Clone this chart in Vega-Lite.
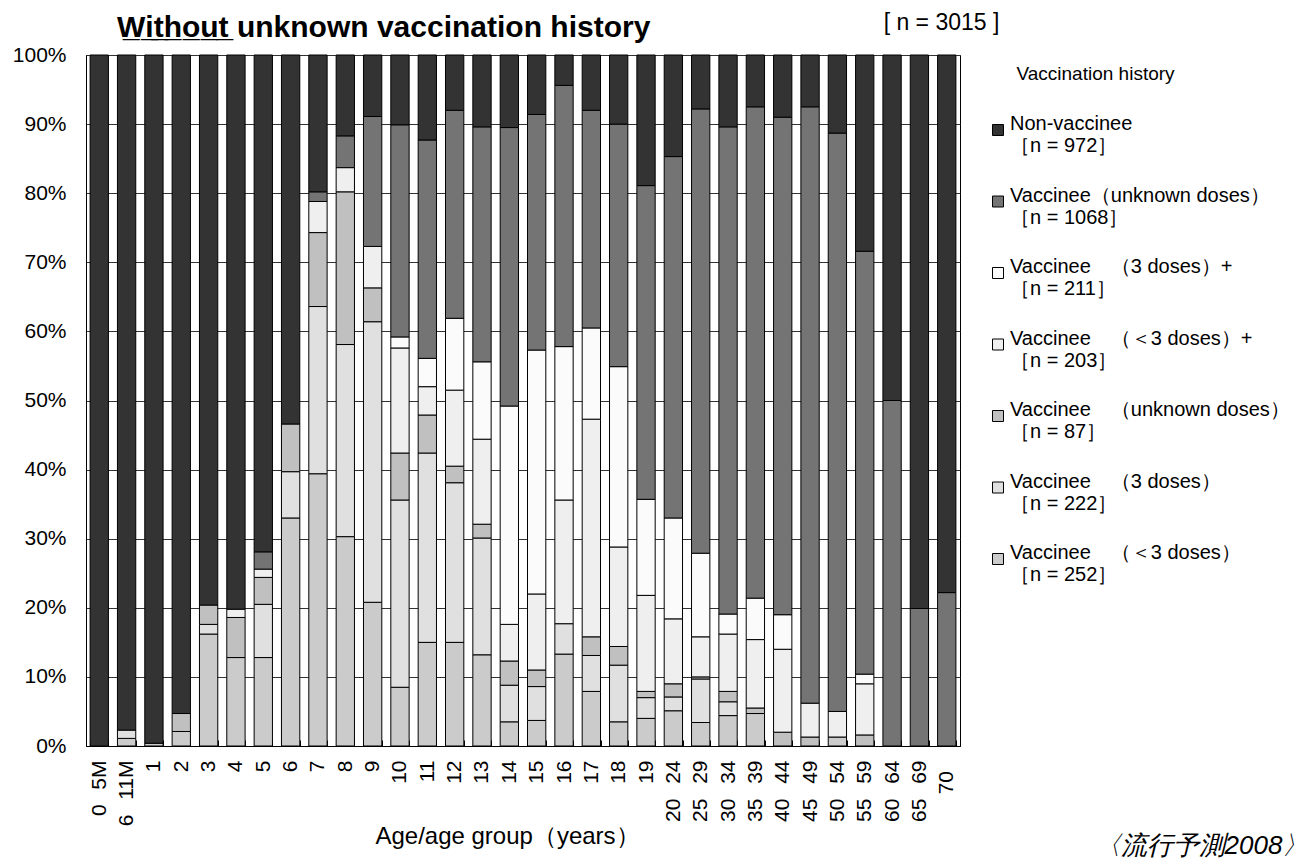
{
  "$schema": "https://vega.github.io/schema/vega-lite/v6.json",
  "width": 874,
  "height": 691,
  "autosize": {"type": "none"},
  "padding": {"left": 86, "top": 55, "right": 349, "bottom": 119},
  "background": "white",
  "config": {
    "font": "Liberation Sans",
    "view": {"stroke": "#000", "strokeWidth": 1},
    "axis": {"labelColor": "#000", "titleColor": "#000"}
  },
  "title": {
    "text": "W\u0332i\u0332t\u0332h\u0332o\u0332u\u0332t\u0332 unknown vaccination history",
    "anchor": "start",
    "frame": "group",
    "dx": 31,
    "dy": 76,
    "fontSize": 30,
    "fontWeight": "bold",
    "color": "#000",
    "baseline": "alphabetic",
    "offset": 20,
    "limit": 800
  },
  "data": {
    "values": [
      {"age": "0\u2002\u20095M", "lt3": 0, "d3": 0, "unk": 0, "plus_lt3": 0, "plus3": 0, "vac_unk": 0, "nonvac": 100},
      {"age": "6\u2002\u200911M", "lt3": 1.1, "d3": 1.2, "unk": 0, "plus_lt3": 0, "plus3": 0, "vac_unk": 0, "nonvac": 97.7},
      {"age": "1", "lt3": 0.4, "d3": 0, "unk": 0, "plus_lt3": 0, "plus3": 0, "vac_unk": 0, "nonvac": 99.6},
      {"age": "2", "lt3": 2.1, "d3": 0, "unk": 2.6, "plus_lt3": 0, "plus3": 0, "vac_unk": 0, "nonvac": 95.3},
      {"age": "3", "lt3": 16.2, "d3": 1.4, "unk": 2.8, "plus_lt3": 0, "plus3": 0, "vac_unk": 0, "nonvac": 79.6},
      {"age": "4", "lt3": 12.8, "d3": 0, "unk": 5.8, "plus_lt3": 1.2, "plus3": 0, "vac_unk": 0, "nonvac": 80.2},
      {"age": "5", "lt3": 12.8, "d3": 7.7, "unk": 3.9, "plus_lt3": 1.2, "plus3": 0, "vac_unk": 2.5, "nonvac": 71.9},
      {"age": "6", "lt3": 33.0, "d3": 6.7, "unk": 6.9, "plus_lt3": 0, "plus3": 0, "vac_unk": 0, "nonvac": 53.4},
      {"age": "7", "lt3": 39.4, "d3": 24.2, "unk": 10.7, "plus_lt3": 4.5, "plus3": 0, "vac_unk": 1.4, "nonvac": 19.8},
      {"age": "8", "lt3": 30.3, "d3": 27.8, "unk": 22.1, "plus_lt3": 3.5, "plus3": 0, "vac_unk": 4.6, "nonvac": 11.7},
      {"age": "9", "lt3": 20.8, "d3": 40.6, "unk": 4.9, "plus_lt3": 6.0, "plus3": 0, "vac_unk": 18.8, "nonvac": 8.9},
      {"age": "10", "lt3": 8.5, "d3": 27.1, "unk": 6.8, "plus_lt3": 15.2, "plus3": 1.6, "vac_unk": 30.7, "nonvac": 10.1},
      {"age": "11", "lt3": 15.0, "d3": 27.4, "unk": 5.5, "plus_lt3": 4.1, "plus3": 4.1, "vac_unk": 31.6, "nonvac": 12.3},
      {"age": "12", "lt3": 15.0, "d3": 23.1, "unk": 2.4, "plus_lt3": 11.0, "plus3": 10.4, "vac_unk": 30.1, "nonvac": 8.0},
      {"age": "13", "lt3": 13.2, "d3": 16.9, "unk": 2.0, "plus_lt3": 12.3, "plus3": 11.2, "vac_unk": 34.0, "nonvac": 10.4},
      {"age": "14", "lt3": 3.5, "d3": 5.3, "unk": 3.5, "plus_lt3": 5.3, "plus3": 31.6, "vac_unk": 40.3, "nonvac": 10.5},
      {"age": "15", "lt3": 3.7, "d3": 4.9, "unk": 2.4, "plus_lt3": 11.0, "plus3": 35.3, "vac_unk": 34.1, "nonvac": 8.6},
      {"age": "16", "lt3": 13.3, "d3": 4.4, "unk": 0, "plus_lt3": 17.9, "plus3": 22.2, "vac_unk": 37.8, "nonvac": 4.4},
      {"age": "17", "lt3": 7.9, "d3": 5.2, "unk": 2.7, "plus_lt3": 31.5, "plus3": 13.2, "vac_unk": 31.5, "nonvac": 8.0},
      {"age": "18", "lt3": 3.5, "d3": 8.2, "unk": 2.7, "plus_lt3": 14.4, "plus3": 26.1, "vac_unk": 35.1, "nonvac": 10.0},
      {"age": "19", "lt3": 4.0, "d3": 3.0, "unk": 0.9, "plus_lt3": 13.9, "plus3": 13.9, "vac_unk": 45.4, "nonvac": 18.9},
      {"age": "20\u2002\u200924", "lt3": 5.1, "d3": 2.0, "unk": 1.9, "plus_lt3": 9.4, "plus3": 14.6, "vac_unk": 52.3, "nonvac": 14.7},
      {"age": "25\u2002\u200929", "lt3": 3.4, "d3": 6.3, "unk": 0.3, "plus_lt3": 5.8, "plus3": 12.1, "vac_unk": 64.3, "nonvac": 7.8},
      {"age": "30\u2002\u200934", "lt3": 4.4, "d3": 2.0, "unk": 1.5, "plus_lt3": 8.3, "plus3": 2.9, "vac_unk": 70.5, "nonvac": 10.4},
      {"age": "35\u2002\u200939", "lt3": 4.7, "d3": 0, "unk": 0.8, "plus_lt3": 9.9, "plus3": 6.0, "vac_unk": 71.1, "nonvac": 7.5},
      {"age": "40\u2002\u200944", "lt3": 0, "d3": 0, "unk": 2.0, "plus_lt3": 12.0, "plus3": 5.0, "vac_unk": 72.0, "nonvac": 9.0},
      {"age": "45\u2002\u200949", "lt3": 0, "d3": 0, "unk": 1.3, "plus_lt3": 4.9, "plus3": 0, "vac_unk": 86.3, "nonvac": 7.5},
      {"age": "50\u2002\u200954", "lt3": 1.3, "d3": 0, "unk": 0, "plus_lt3": 3.7, "plus3": 0, "vac_unk": 83.7, "nonvac": 11.3},
      {"age": "55\u2002\u200959", "lt3": 0, "d3": 0, "unk": 1.6, "plus_lt3": 7.4, "plus3": 1.4, "vac_unk": 61.2, "nonvac": 28.4},
      {"age": "60\u2002\u200964", "lt3": 0, "d3": 0, "unk": 0, "plus_lt3": 0, "plus3": 0, "vac_unk": 50.0, "nonvac": 50.0},
      {"age": "65\u2002\u200969", "lt3": 0, "d3": 0, "unk": 0, "plus_lt3": 0, "plus3": 0, "vac_unk": 19.9, "nonvac": 80.1},
      {"age": "70\u2002\u200b", "lt3": 0, "d3": 0, "unk": 0, "plus_lt3": 0, "plus3": 0, "vac_unk": 22.2, "nonvac": 77.8}
    ]
  },
  "transform": [
    {"fold": ["lt3", "d3", "unk", "plus_lt3", "plus3", "vac_unk", "nonvac"], "as": ["key", "value"]},
    {"filter": "datum.value > 0"},
    {"calculate": "indexof(['lt3','d3','unk','plus_lt3','plus3','vac_unk','nonvac'], datum.key)", "as": "ord"}
  ],
  "encoding": {
    "x": {
      "field": "age",
      "type": "nominal",
      "sort": null,
      "scale": {"paddingInner": 0.33, "paddingOuter": 0.15},
      "axis": {
        "title": "Age/age group\uff08years\uff09",
        "titleFontSize": 24,
        "titleFontWeight": "normal",
        "titleX": 421,
        "titleY": 90,
        "titleBaseline": "middle",
        "labelAngle": 270,
        "labelFontSize": 21,
        "labelPadding": 20,
        "ticks": true,
        "tickBand": "extent",
        "tickSize": -6,
        "tickColor": "#000",
        "domainColor": "#000",
        "grid": false
      }
    }
  },
  "layer": [
    {
      "mark": {"type": "bar", "stroke": "#000", "strokeWidth": 1},
      "encoding": {
        "y": {
          "field": "value",
          "type": "quantitative",
          "stack": "normalize",
          "axis": {
            "format": "%",
            "values": [0, 0.1, 0.2, 0.3, 0.4, 0.5, 0.6, 0.7, 0.8, 0.9, 1],
            "labelFontSize": 21,
            "labelPadding": 20,
            "ticks": false,
            "domainColor": "#000",
            "grid": true,
            "gridColor": "#333",
            "gridWidth": 1,
            "title": "[ n = 3015 ]",
            "titleAngle": 0,
            "titleX": 855,
            "titleY": -33,
            "titleFontSize": 23,
            "titleFontWeight": "normal",
            "titleAlign": "center",
            "titleBaseline": "middle"
          }
        },
        "color": {
          "field": "key",
          "type": "nominal",
          "scale": {
            "domain": ["nonvac", "vac_unk", "plus3", "plus_lt3", "unk", "d3", "lt3"],
            "range": ["#333333", "#747474", "#fbfbfb", "#efefef", "#c0c0c0", "#e0e0e0", "#cbcbcb"]
          },
          "legend": {
            "orient": "none",
            "legendX": 902,
            "legendY": 10,
            "padding": 0,
            "title": "\u200b\u2003\u2002Vaccination history",
            "titleFontSize": 19,
            "titleFontWeight": "normal",
            "titleColor": "#000",
            "titleLimit": 400,
            "titlePadding": 36,
            "symbolType": "square",
            "symbolSize": 121,
            "symbolStrokeColor": "#000",
            "symbolStrokeWidth": 1,
            "symbolOpacity": 1,
            "labelFontSize": 20,
            "labelColor": "#000",
            "labelLineHeight": 29,
            "labelBaseline": "alphabetic",
            "labelLimit": 400,
            "labelOffset": 2,
            "rowPadding": 29.5,
            "labelExpr": "{'nonvac': ['Non-vaccinee', '\uff3bn = 972\uff3d'], 'vac_unk': ['Vaccinee\uff08unknown doses\uff09', '\uff3bn = 1068\uff3d'], 'plus3': ['Vaccinee\u3000\uff083 doses\uff09+', '\uff3bn = 211\uff3d'], 'plus_lt3': ['Vaccinee\u3000\uff08\uff1c3 doses\uff09+', '\uff3bn = 203\uff3d'], 'unk': ['Vaccinee\u3000\uff08unknown doses\uff09', '\uff3bn = 87\uff3d'], 'd3': ['Vaccinee\u3000\uff083 doses\uff09', '\uff3bn = 222\uff3d'], 'lt3': ['Vaccinee\u3000\uff08\uff1c3 doses\uff09', '\uff3bn = 252\uff3d']}[datum.value]"
          }
        },
        "order": {"field": "ord", "type": "quantitative"}
      }
    },
    {
      "mark": {"type": "bar", "opacity": 0},
      "encoding": {
        "y": {
          "field": "value",
          "type": "quantitative",
          "axis": {
            "orient": "right",
            "title": "\u3008\u6d41\u884c\u4e88\u6e2c2008\u3009",
            "titleAngle": 0,
            "titleX": 241,
            "titleY": 790,
            "titleFontSize": 26,
            "titleFontStyle": "italic",
            "titleFontWeight": "normal",
            "titleAlign": "center",
            "titleBaseline": "middle",
            "labels": false,
            "ticks": false,
            "domain": false,
            "grid": false
          }
        }
      }
    }
  ],
  "resolve": {"scale": {"y": "independent"}, "axis": {"y": "independent"}}
}
